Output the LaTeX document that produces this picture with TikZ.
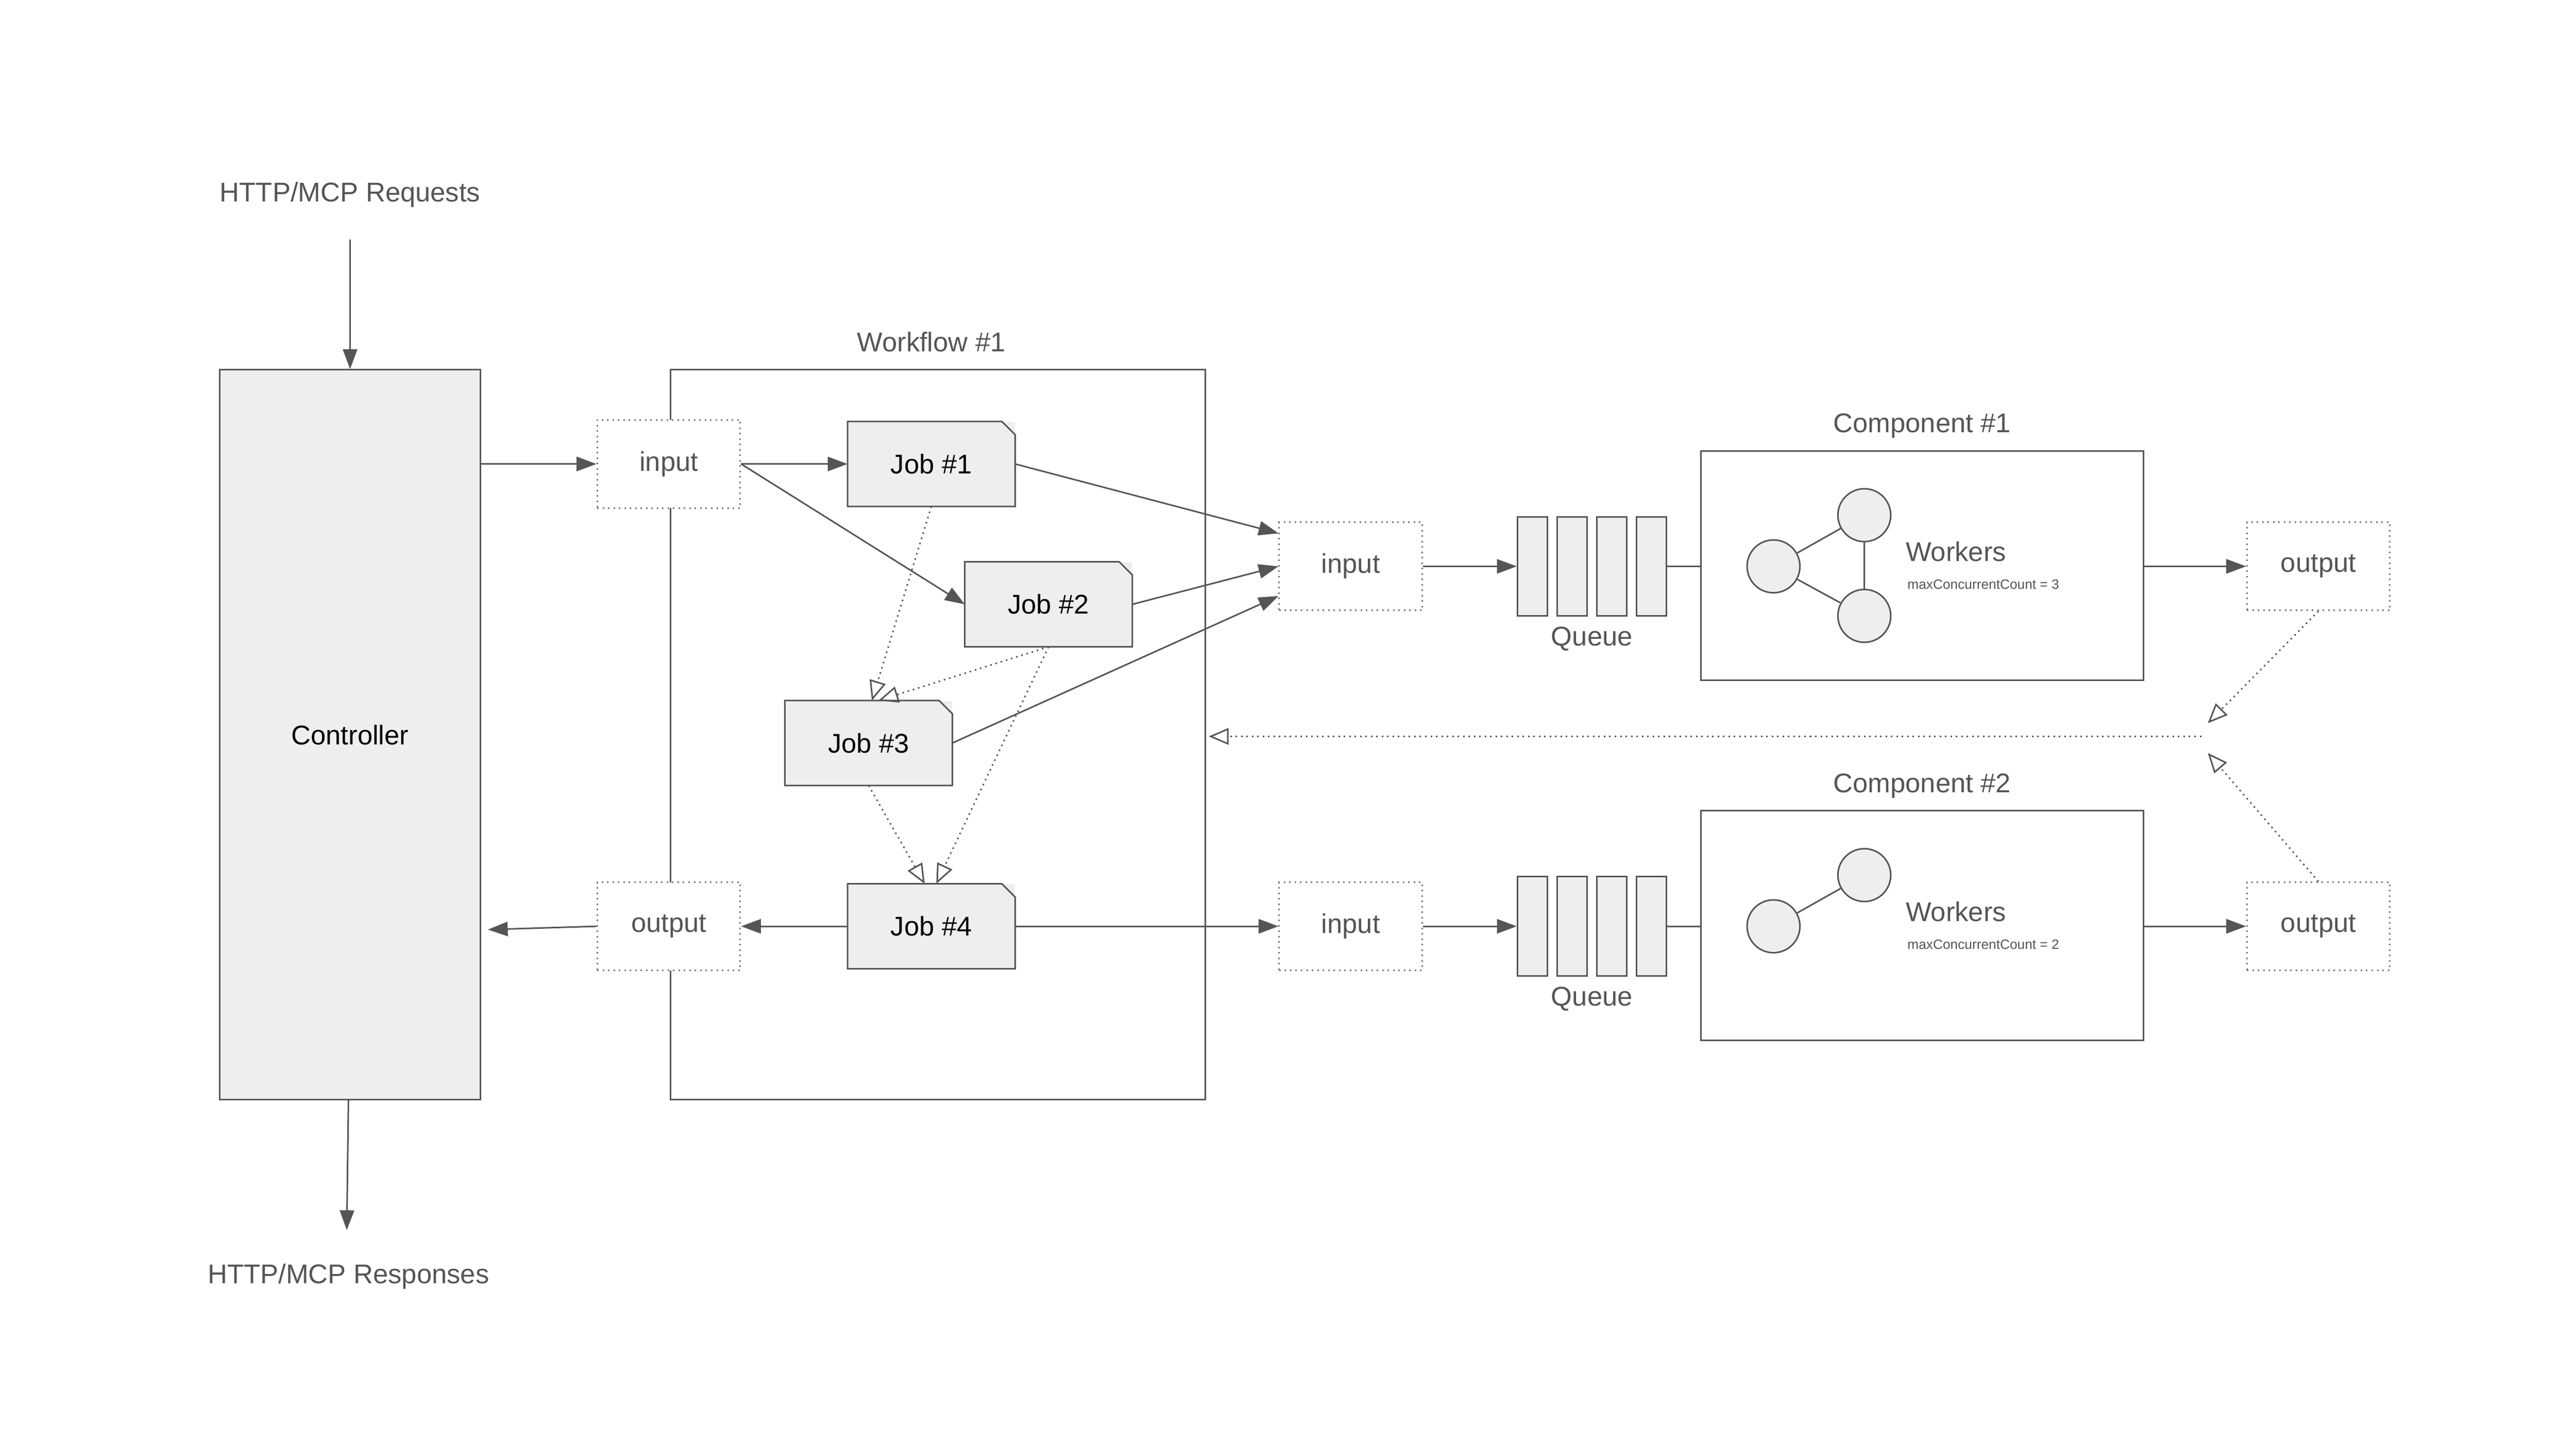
\documentclass[tikz,border=0pt]{standalone}
\usepackage{fontspec}
\setmainfont{Liberation Sans}
\usetikzlibrary{arrows.meta}
\definecolor{ink}{HTML}{555555}
\definecolor{boxfill}{HTML}{EEEEEE}
\tikzset{
  lbl/.style={text=ink,font=\fontsize{14}{16}\selectfont},
  port/.style={draw=ink!80,dotted,thick,fill=white,minimum width=26mm,minimum height=16mm,lbl},
  jobbox/.style={fill=boxfill,minimum width=30.3mm,minimum height=15.3mm,font=\fontsize{14}{16}\selectfont},
  cell/.style={draw=ink,thick,fill=boxfill,minimum width=5.4mm,minimum height=18mm,inner sep=0pt},
  wrk/.style={circle,draw=ink,thick,fill=boxfill,minimum size=9.6mm,inner sep=0pt},
  flow/.style={draw=ink,thick,-{Triangle[length=3.6mm,width=2.6mm]}},
  dep/.style={draw=ink,thick,dotted,-{Triangle[open,length=3.6mm,width=3mm]}}
}
\newcommand{\jobshape}[1]{%
  \draw[ink,thick] (#1.south west) -- (#1.north west) -- ([xshift=-2.4mm]#1.north east)
    -- ([yshift=-2.4mm]#1.north east) -- (#1.south east) -- cycle;}
\begin{document}
\begin{tikzpicture}[x=0.3mm,y=-0.3mm]
  \useasboundingbox[fill=white] (0,0) rectangle (1560,875);

  % controller
  \node[lbl] (req) at (212,118) {HTTP/MCP Requests};
  \node[lbl] (resp) at (211,773) {HTTP/MCP Responses};
  \node[draw=ink,thick,fill=boxfill,minimum width=47.4mm,minimum height=132.6mm,
        font=\fontsize{14}{16}\selectfont] (ctrl) at (212,445) {Controller};
  \coordinate (reqend) at (212,145);
  \coordinate (respend) at (210,745);
  \draw[flow] (reqend) -- (ctrl.north);
  \draw[flow] (211,666) -- (respend);

  % workflow
  \draw[ink,thick] (406,224) rectangle (730,666);
  \node[lbl] (wf) at (564,207) {Workflow \#1};
  \coordinate (wfright) at (732,446);
  \node[port] (win) at (405,281) {input};
  \node[port] (wout) at (405,561) {output};

  \node[jobbox] (job1) at (564,281) {Job \#1};
  \node[jobbox] (job2) at (635,366) {Job \#2};
  \node[jobbox] (job3) at (526,450) {Job \#3};
  \node[jobbox] (job4) at (564,561) {Job \#4};
  \foreach \j in {job1,job2,job3,job4}
    \jobshape{\j};

  % component inputs and outputs
  \node[port] (cin1) at (818,343) {input};
  \node[port] (cin2) at (818,561) {input};
  \node[port] (cout1) at (1404,343) {output};
  \node[port] (cout2) at (1404,561) {output};

  % queues
  \foreach \q/\y in {1/343,2/561} {
    \foreach \i/\x in {1/928,2/952,3/976,4/1000}
      \node[cell] (q\q c\i) at (\x,\y) {};
    \node[lbl] (ql\q) at (964,\y+44) {Queue};
  }

  % components
  \draw[ink,thick] (1030,273) rectangle (1298,412);
  \node[lbl] (comp1) at (1164,258) {Component \#1};
  \draw[ink,thick] (1030,491) rectangle (1298,630);
  \node[lbl] (comp2) at (1164,476) {Component \#2};
  \coordinate (c1left) at (1030,343);
  \coordinate (c1right) at (1298,343);
  \coordinate (c2left) at (1030,561);
  \coordinate (c2right) at (1298,561);

  \node[wrk] (w1a) at (1074,343) {};
  \node[wrk] (w1b) at (1129,312) {};
  \node[wrk] (w1c) at (1129,373) {};
  \draw[ink,thick] (w1a) -- (w1b) -- (w1c) -- (w1a);
  \node[wrk] (w2a) at (1074,561) {};
  \node[wrk] (w2b) at (1129,530) {};
  \draw[ink,thick] (w2a) -- (w2b);

  \node[lbl,anchor=west] (wk1) at (1150,334) {Workers};
  \node[text=ink,font=\fontsize{7}{8}\selectfont,anchor=west] (mc1) at (1151,354) {maxConcurrentCount = 3};
  \node[lbl,anchor=west] (wk2) at (1150,552) {Workers};
  \node[text=ink,font=\fontsize{7}{8}\selectfont,anchor=west] (mc2) at (1151,572) {maxConcurrentCount = 2};

  % data flow
  \draw[flow] (ctrl.north east |- win) -- (win);
  \draw[flow] (win.east) -- (job1.west);
  \draw[flow] (win.east) -- (job2.west);
  \draw[flow] (job1.east) -- ([yshift=6mm]cin1.west);
  \draw[flow] (job2.east) -- (cin1.west);
  \draw[flow] (job3.east) -- ([yshift=-5.4mm]cin1.west);
  \draw[flow] (job4.east) -- (cin2.west);
  \draw[flow] (job4.west) -- (wout.east);
  \draw[flow] (wout.west) -- ([xshift=1.2mm,yshift=-0.6mm]ctrl.east |- wout);
  \draw[flow] (cin1.east) -- (q1c1.west);
  \draw[flow] (cin2.east) -- (q2c1.west);
  \draw[ink,thick] (q1c4.east) -- (c1left);
  \draw[ink,thick] (q2c4.east) -- (c2left);
  \draw[flow] (c1right) -- (cout1.west);
  \draw[flow] (c2right) -- (cout2.west);

  % dependencies
  \draw[dep] (job1.south) -- ([xshift=0.6mm]job3.north);
  \draw[dep] (job2.south) -- ([xshift=1.8mm]job3.north);
  \draw[dep] (job2.south) -- ([xshift=0.9mm]job4.north);
  \draw[dep] (job3.south) -- ([xshift=-1.2mm]job4.north);

  % results back
  \coordinate (join) at (1333,446);
  \draw[dep] (cout1.south) -- (1337,438);
  \draw[dep] (cout2.north) -- (1337,456);
  \draw[dep] (join) -- (wfright);
\end{tikzpicture}
\end{document}
